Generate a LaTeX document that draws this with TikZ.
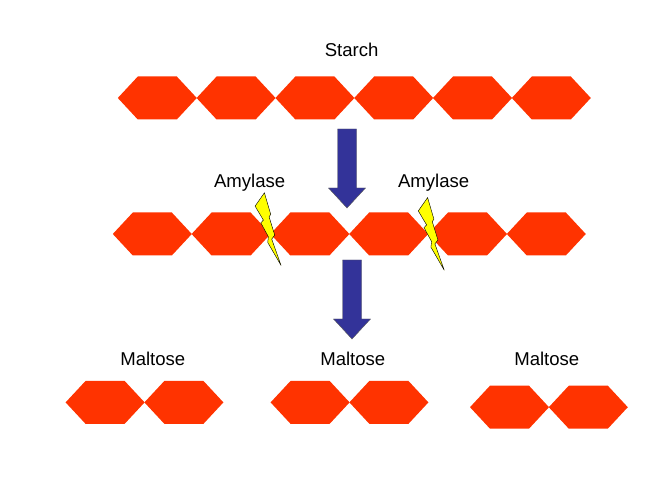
\documentclass[tikz,border=0pt]{standalone}
\usepackage{fontspec}
\setmainfont{Liberation Sans}
\usetikzlibrary{positioning}
\definecolor{sugar}{RGB}{255,51,0}
\definecolor{enzyme}{RGB}{51,51,153}
\definecolor{spark}{RGB}{255,255,0}
\tikzset{
  label/.style={font=\fontsize{13.2}{15}\selectfont,inner sep=0pt},
  unit/.pic={\fill[sugar] (0,0) -- (.5,.5375) -- (1.475,.5375) -- (1.975,0) -- (1.475,-.5375) -- (.5,-.5375) -- cycle;},
  downarrow/.pic={\fill[enzyme,draw=gray!70!black,line width=.3pt] (-.2375,0) -- (.2375,0) -- (.2375,-1.475) -- (.4625,-1.475) -- (0,-1.975) -- (-.4625,-1.475) -- (-.2375,-1.475) -- cycle;},
  bolt/.pic={\draw[fill=spark,line width=.3pt] (0,0) -- (.158,-.54) -- (.117,-.6) -- (.258,-1.058) -- (.183,-1.158) -- (.417,-1.817) -- (.083,-1.24) -- (.1,-1.1) -- (-.09,-.75) -- (-.025,-.683) -- (-.233,-.333) -- cycle;}
}
\begin{document}
\begin{tikzpicture}
  \useasboundingbox (0,0) rectangle (16.675,12.5);
  % chains
  \foreach \i in {0,...,5} \pic at ({2.945+1.97*\i},10.05) {unit};
  \foreach \i in {0,...,5} \pic at ({2.82+1.97*\i},6.65) {unit};
  \foreach \i in {0,1} {
    \pic at ({1.64+1.97*\i},2.44) {unit};
    \pic at ({6.765+1.97*\i},2.44) {unit};
    \pic at ({11.75+1.97*\i},2.32) {unit};
  }
  \pic at (8.675,9.275) {downarrow};
  \pic at (8.8,6.0) {downarrow};
  \pic at (6.61,7.68) {bolt};
  \pic at (10.69,7.56) {bolt};
  % labels
  \node[label] (starch) at (8.79,11.26) {Starch};
  \node[label] (amyl) at (6.24,7.93) {Amylase};
  \node[label] (amyr) at (10.84,7.93) {Amylase};
  \node[label] (malta) at (3.82,3.52) {Maltose};
  \node[label] (maltb) at (8.82,3.52) {Maltose};
  \node[label] (maltc) at (13.67,3.52) {Maltose};
\end{tikzpicture}
\end{document}
